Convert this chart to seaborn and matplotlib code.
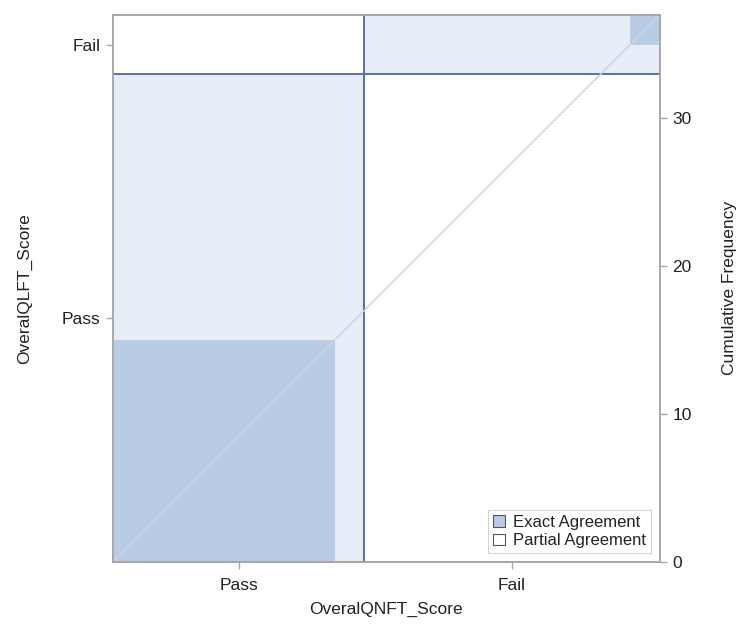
import numpy as np
import matplotlib
matplotlib.use("Agg")
import matplotlib.pyplot as plt
import seaborn as sns
from matplotlib.patches import Patch

# agreement table: rows = OveralQLFT_Score, columns = OveralQNFT_Score
categories = ["Pass", "Fail"]
counts_pass_row = [15, 18]
counts_fail_row = [2, 2]
right_ticks = [0, 10, 20, 30]

table = np.array([counts_pass_row, counts_fail_row])
col_tot = table.sum(axis=0)
row_tot = table.sum(axis=1)
n_total = table.sum()
col_start = np.concatenate([[0], np.cumsum(col_tot)[:-1]])
row_start = np.concatenate([[0], np.cumsum(row_tot)[:-1]])

sns.set_style("white")
plt.rcParams["font.family"] = ["Liberation Sans", "DejaVu Sans"]

light = "#E6EDF7"
dark = "#B8CCE5"
line_blue = "#5571A8"
grey = "#A8A8A8"
txt = "#222222"

fig = plt.figure(figsize=(7.38, 6.27), dpi=100)
ax = fig.add_axes([0.153, 0.104, 0.741, 0.872])

# marginal rectangles (partial/background)
ax.bar(col_start, row_tot, width=col_tot, bottom=row_start, align="edge",
       color=light, edgecolor="none", zorder=1)

# exact agreement squares
diag = np.diag(table)
sq_x = [col_start[i] + table[:i, i].sum() for i in range(len(categories))]
sq_y = [row_start[i] + table[i, :i].sum() for i in range(len(categories))]
ax.bar(sq_x, diag, width=diag, bottom=sq_y, align="edge",
       color=dark, edgecolor="none", zorder=2)

# reference lines at cumulative totals
for c in np.cumsum(col_tot)[:-1]:
    ax.axvline(c, color=line_blue, lw=1.4, zorder=3)
for r in np.cumsum(row_tot)[:-1]:
    ax.axhline(r, color=line_blue, lw=1.4, zorder=3)

# diagonal
sns.lineplot(x=[0, n_total], y=[0, n_total], ax=ax, color="#CDD3DD", lw=1.1, zorder=4)

ax.set_xlim(0, n_total)
ax.set_ylim(0, n_total)
ax.set_xticks(col_start + col_tot / 2)
ax.set_xticklabels(categories)
ax.set_yticks(row_start + row_tot / 2)
ax.set_yticklabels(categories)
ax.set_xlabel("OveralQNFT_Score", fontsize=12.5, labelpad=6, color=txt)
ax.set_ylabel("OveralQLFT_Score", fontsize=12.5, labelpad=21, color=txt)
ax.tick_params(axis="both", length=5, width=1, color=grey, labelsize=12.5,
               labelcolor=txt, direction="out", bottom=True, left=True, pad=4)
ax.tick_params(axis="x", pad=7)

ax2 = ax.twinx()
ax2.set_ylim(0, n_total)
ax2.set_yticks(right_ticks)
ax2.set_ylabel("Cumulative Frequency", fontsize=12.5, labelpad=22, color=txt)
ax2.tick_params(axis="y", length=5, width=1, color=grey, labelsize=12.5,
                labelcolor=txt, direction="out", right=True, pad=4)

for a in (ax, ax2):
    for s in a.spines.values():
        s.set_color(grey)
        s.set_linewidth(1.2)
ax.spines["bottom"].set_color("#8C97B0")

handles = [Patch(facecolor=dark, edgecolor="#555555", lw=0.8, label="Exact Agreement"),
           Patch(facecolor="white", edgecolor="#555555", lw=0.8, label="Partial Agreement")]
leg = ax.legend(handles=handles, loc="lower right", fontsize=12, frameon=True,
                fancybox=False, borderpad=0.3, handlelength=0.7, handleheight=0.7,
                handletextpad=0.5, labelspacing=0.2, borderaxespad=0.5)
leg.get_frame().set_edgecolor("#C8C8C8")
leg.get_frame().set_linewidth(0.8)
for t in leg.get_texts():
    t.set_color(txt)
leg.set_zorder(10)

fig.savefig("out.png", dpi=100)
